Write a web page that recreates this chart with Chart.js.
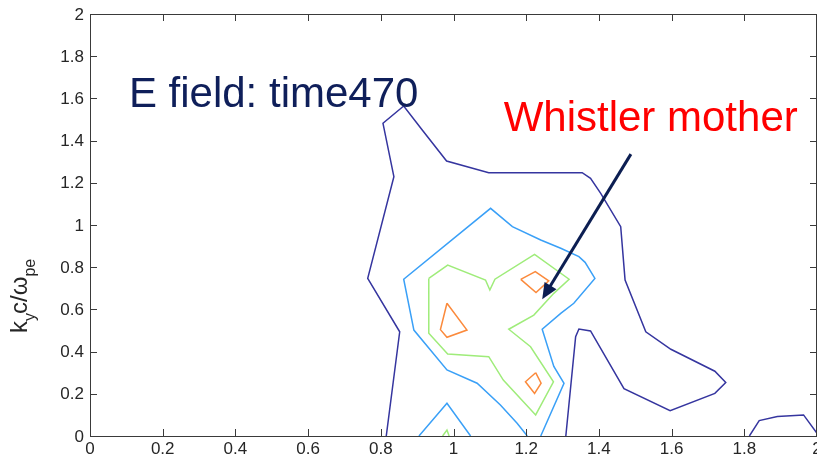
<!DOCTYPE html>
<html>
<head>
<meta charset="utf-8">
<script src="https://cdn.jsdelivr.net/npm/chart.js@4.4.1/dist/chart.umd.min.js"></script>
<style>
  html, body { margin: 0; padding: 0; background: #fff; }
</style>
</head>
<body>
<canvas id="root" width="817" height="461"></canvas>
<script>
// contour lines, [kx c/wpe, ky c/wpe]
const darkOuter = [
    [0.815, 0], [0.852, 0.494], [0.764, 0.747], [0.836, 1.229], [0.806, 1.482],
    [0.863, 1.564], [0.914, 1.450], [0.981, 1.303], [1.097, 1.248], [1.354, 1.248],
    [1.377, 1.221], [1.405, 1.150], [1.460, 0.992], [1.472, 0.739], [1.529, 0.494],
    [1.598, 0.411], [1.719, 0.307], [1.749, 0.254], [1.719, 0.202], [1.596, 0.120],
    [1.469, 0.224], [1.377, 0.498], [1.345, 0.507], [1.336, 0.471], [1.309, 0]
]
const darkCorner = [[1.814, 0], [1.841, 0.073], [1.891, 0.092], [1.963, 0.100], [2.0, 0.013]]

const cyanMain = [
    [1.203, 0], [1.175, 0.060], [1.129, 0.147], [1.065, 0.250], [0.982, 0.313],
    [0.891, 0.502], [0.863, 0.743], [1.102, 1.079], [1.162, 0.992], [1.240, 0.929],
    [1.295, 0.890], [1.345, 0.850], [1.362, 0.823], [1.389, 0.747], [1.331, 0.629],
    [1.295, 0.581], [1.244, 0.506], [1.276, 0.330], [1.304, 0.250], [1.240, 0]
]
const cyanSmall = [[0.905, 0], [0.982, 0.155], [1.047, 0]]

const greenMain = [
    [0.932, 0.747], [0.984, 0.810], [1.088, 0.739], [1.100, 0.692], [1.114, 0.743],
    [1.223, 0.861], [1.318, 0.743], [1.276, 0.676], [1.221, 0.573], [1.152, 0.506],
    [1.212, 0.423], [1.275, 0.257], [1.226, 0.100], [1.137, 0.265], [1.097, 0.376],
    [0.984, 0.389], [0.932, 0.487], [0.932, 0.747]
]
const greenSmall = [[0.970, 0], [0.982, 0.028], [0.988, 0]]

const orangeLeft = [[0.982, 0.629], [1.037, 0.502], [0.982, 0.468], [0.964, 0.504], [0.982, 0.629]]
const orangeTop = [[1.185, 0.742], [1.225, 0.779], [1.262, 0.735], [1.227, 0.680], [1.185, 0.742]]
const orangeBottom = [[1.226, 0.300], [1.241, 0.250], [1.223, 0.202], [1.198, 0.257], [1.226, 0.300]]

const xTickLabels = ['0', '0.2', '0.4', '0.6', '0.8', '1', '1.2', '1.4', '1.6', '1.8', '2']
const yTickLabels = ['0', '0.2', '0.4', '0.6', '0.8', '1', '1.2', '1.4', '1.6', '1.8', '2']

// notes on the plot, in data units
const titleNote = { text: 'E field: time470', x: 0.107, y: 1.559 }
const motherNote = { text: 'Whistler mother', x: 1.138, y: 1.445 }
const arrowFrom = [1.488, 1.336]
const arrowTo = [1.244, 0.648]

const FONT = 'Arial, "Liberation Sans", sans-serif'

function line(points, color) {
    return {
        data: points.map(p => ({ x: p[0], y: p[1] })),
        showLine: true,
        borderColor: color,
        borderWidth: 1.5,
        pointRadius: 0,
        tension: 0,
        fill: false
    }
}

const darkBlue = '#35359f'
const cyan = '#3aa0f7'
const green = '#9fec7a'
const orange = '#fb8a3c'

const frame = {
    id: 'frame',
    afterDraw(chart) {
        const ctx = chart.ctx
        const a = chart.chartArea
        const xs = chart.scales.x
        const ys = chart.scales.y
        ctx.save()

        // box with inward ticks on all four sides
        ctx.strokeStyle = '#3a3a3a'
        ctx.lineWidth = 1
        ctx.strokeRect(a.left + 0.5, a.top + 0.5, a.right - a.left - 1, a.bottom - a.top)
        ctx.beginPath()
        xTickLabels.forEach(l => {
            const px = Math.round(xs.getPixelForValue(Number(l))) + 0.5
            ctx.moveTo(px, a.bottom); ctx.lineTo(px, a.bottom - 7)
            ctx.moveTo(px, a.top); ctx.lineTo(px, a.top + 7)
        })
        yTickLabels.forEach(l => {
            const py = Math.round(ys.getPixelForValue(Number(l))) + 0.5
            ctx.moveTo(a.left, py); ctx.lineTo(a.left + 7, py)
            ctx.moveTo(a.right, py); ctx.lineTo(a.right - 7, py)
        })
        ctx.stroke()

        // tick labels
        ctx.fillStyle = '#262626'
        ctx.font = '17px ' + FONT
        ctx.textAlign = 'center'
        ctx.textBaseline = 'top'
        xTickLabels.forEach(l => {
            ctx.fillText(l, xs.getPixelForValue(Number(l)), a.bottom + 5)
        })
        ctx.textAlign = 'right'
        ctx.textBaseline = 'middle'
        yTickLabels.forEach(l => {
            ctx.fillText(l, a.left - 6, ys.getPixelForValue(Number(l)) + 1)
        })

        // y axis title: k_y c / w_pe
        ctx.translate(27, 333)
        ctx.rotate(-Math.PI / 2)
        ctx.textAlign = 'left'
        ctx.textBaseline = 'alphabetic'
        let cx = 0
        ctx.font = '24px ' + FONT
        ctx.fillText('k', cx, 0); cx += ctx.measureText('k').width
        ctx.font = '16px ' + FONT
        ctx.fillText('y', cx, 8); cx += ctx.measureText('y').width - 1
        ctx.font = '24px ' + FONT
        ctx.fillText('c/\u03c9', cx, 0); cx += ctx.measureText('c/\u03c9').width
        ctx.font = '16px ' + FONT
        ctx.fillText('pe', cx, 8)
        ctx.restore()

        // notes and arrow
        ctx.save()
        ctx.font = '42px ' + FONT
        ctx.textAlign = 'left'
        ctx.textBaseline = 'alphabetic'
        ctx.fillStyle = '#0f1f5a'
        ctx.fillText(titleNote.text, xs.getPixelForValue(titleNote.x), ys.getPixelForValue(titleNote.y))
        ctx.fillStyle = '#ff0000'
        ctx.fillText(motherNote.text, xs.getPixelForValue(motherNote.x), ys.getPixelForValue(motherNote.y))

        const x0 = xs.getPixelForValue(arrowFrom[0]), y0 = ys.getPixelForValue(arrowFrom[1])
        const x1 = xs.getPixelForValue(arrowTo[0]), y1 = ys.getPixelForValue(arrowTo[1])
        const ang = Math.atan2(y1 - y0, x1 - x0)
        const headLen = 16, headHalf = 7
        const bx = x1 - headLen * Math.cos(ang), by = y1 - headLen * Math.sin(ang)
        ctx.strokeStyle = '#0c1e52'
        ctx.fillStyle = '#0c1e52'
        ctx.lineWidth = 3
        ctx.beginPath()
        ctx.moveTo(x0, y0)
        ctx.lineTo(bx + 2 * Math.cos(ang), by + 2 * Math.sin(ang))
        ctx.stroke()
        ctx.beginPath()
        ctx.moveTo(x1, y1)
        ctx.lineTo(bx + headHalf * Math.sin(ang), by - headHalf * Math.cos(ang))
        ctx.lineTo(bx - headHalf * Math.sin(ang), by + headHalf * Math.cos(ang))
        ctx.closePath()
        ctx.fill()
        ctx.restore()
    }
}

const ctx = document.getElementById('root').getContext('2d')

const config = {
    type: 'scatter',
    data: {
        datasets: [
            line(darkOuter, darkBlue),
            line(darkCorner, darkBlue),
            line(cyanMain, cyan),
            line(cyanSmall, cyan),
            line(greenMain, green),
            line(greenSmall, green),
            line(orangeLeft, orange),
            line(orangeTop, orange),
            line(orangeBottom, orange)
        ]
    },
    options: {
        responsive: false,
        animation: false,
        layout: { padding: { top: 14, right: 0, left: 0, bottom: 0 } },
        plugins: {
            legend: { display: false },
            tooltip: { enabled: false }
        },
        scales: {
            x: {
                type: 'linear', min: 0, max: 2,
                ticks: { display: false, stepSize: 0.2 },
                grid: { display: false },
                border: { display: false },
                afterFit(s) { s.height = 25 }
            },
            y: {
                type: 'linear', min: 0, max: 2,
                ticks: { display: false, stepSize: 0.2 },
                grid: { display: false },
                border: { display: false },
                afterFit(s) { s.width = 90 }
            }
        }
    },
    plugins: [frame]
}

const myChart = new Chart(ctx, config)
</script>
</body>
</html>
